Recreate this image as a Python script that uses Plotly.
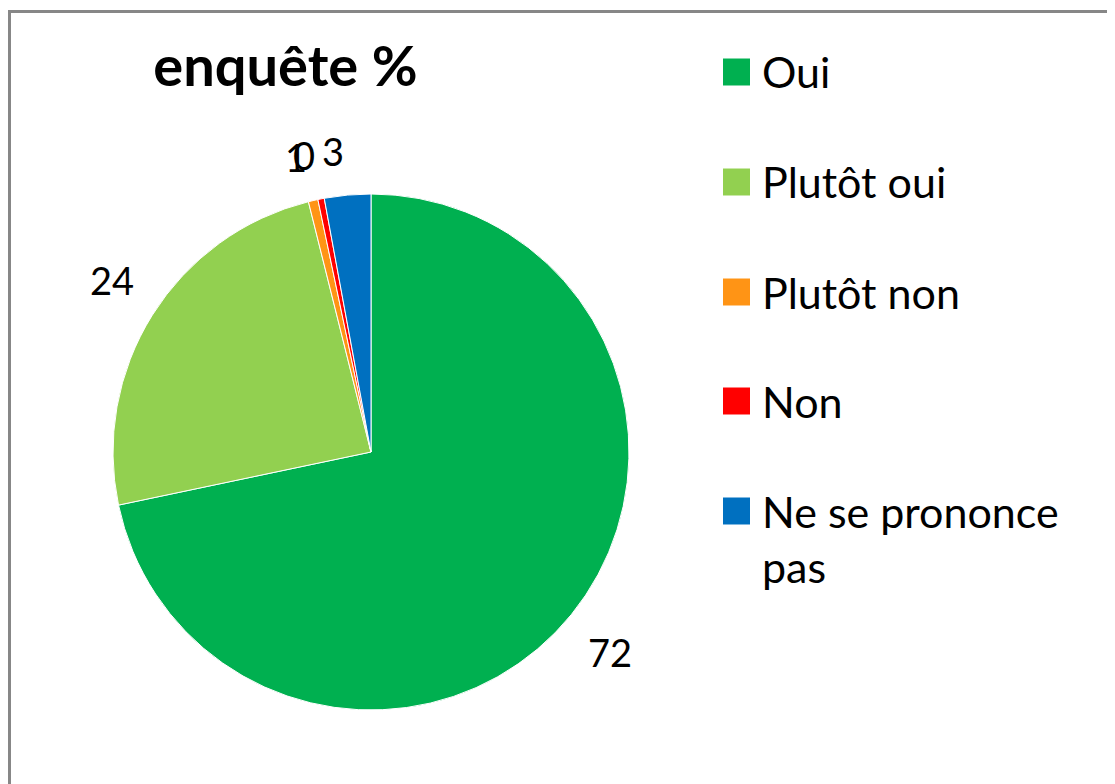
import math
import plotly.graph_objects as go

labels = ["Oui", "Plutôt oui", "Plutôt non", "Non", "Ne se prononce pas"]
values = [71.7, 24.4, 0.6, 0.4, 2.9]
colors = ["#00B050", "#92D050", "#FF9415", "#FF0000", "#0070C0"]
legend_lines = [["Oui"], ["Plutôt oui"], ["Plutôt non"], ["Non"], ["Ne se prononce", "pas"]]
title_text = "enquête %"

W, H = 1115, 784
OFF = 8  # page body margin
FONT = "Lato"


def px(x):
    return (x - OFF) / W


def py(y):
    return 1 - (y - OFF) / H


# pie geometry (in screen pixels)
CX, CY, R = 371, 452, 258

fig = go.Figure()
fig.add_trace(go.Pie(
    labels=labels, values=values, sort=False, direction="clockwise", rotation=0,
    marker=dict(colors=colors, line=dict(color="white", width=1)),
    textinfo="none", showlegend=False, hoverinfo="label+value",
    domain=dict(x=[px(CX - R), px(CX + R)], y=[py(CY + R), py(CY - R)]),
))

annotations = []
# data labels placed outside the end of each slice
total = sum(values)
cum = 0.0
RL = R * 1.075
for v in values:
    th = 2 * math.pi * (cum + v / 2) / total
    cum += v
    s, c = math.sin(th), math.cos(th)
    annotations.append(dict(
        text=f"{v:.0f}", xref="paper", yref="paper",
        x=px(CX + RL * s), y=py(CY - RL * c),
        xanchor="right" if s < 0 else "left",
        yanchor="bottom" if c > 0 else "top",
        showarrow=False, font=dict(family=FONT, size=38, color="black")))

shapes = [dict(type="rect", xref="paper", yref="paper",
               x0=px(9.5), x1=1.05, y0=-0.05, y1=py(11.5),
               line=dict(color="#878787", width=3), fillcolor="rgba(0,0,0,0)")]
y_centers = [72, 182, 292, 401, 511]
line_h = 55
for lines, col, yc in zip(legend_lines, colors, y_centers):
    shapes.append(dict(type="rect", xref="paper", yref="paper",
                       x0=px(723), x1=px(750), y0=py(yc + 13.5), y1=py(yc - 13.5),
                       line=dict(width=0), fillcolor=col))
    for i, ln in enumerate(lines):
        annotations.append(dict(text=ln, xref="paper", yref="paper", x=px(760),
                                y=py(yc + i * line_h), xanchor="left", yanchor="middle",
                                showarrow=False, font=dict(family=FONT, size=43, color="black")))

fig.update_layout(
    width=W, height=H, margin=dict(l=0, r=0, t=0, b=0),
    paper_bgcolor="white", plot_bgcolor="white",
    title=dict(text="<b>" + title_text + "</b>", x=px(285.5), xanchor="center",
               y=py(66), yanchor="middle", font=dict(family=FONT, size=56, color="black")),
    shapes=shapes, annotations=annotations,
)
fig.write_html("out.html")
